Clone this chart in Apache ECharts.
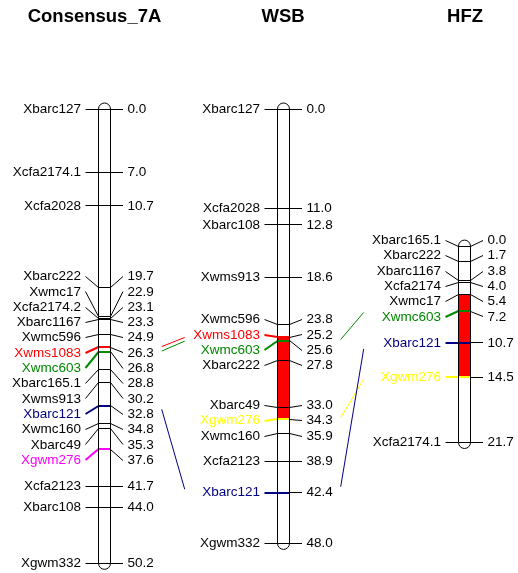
<!DOCTYPE html>
<html>
<head>
<meta charset="utf-8">
<script src="https://cdn.jsdelivr.net/npm/echarts@6/dist/echarts.min.js"></script>
<style>
  html, body { margin: 0; padding: 0; background: #fff; }
  #chart { width: 518px; height: 573px; }
</style>
</head>
<body>
<div id="chart"></div>
<script>
// ---- Linkage maps of chromosome 7A: marker names and positions (cM) ----
const mapTitles = ['Consensus_7A', 'WSB', 'HFZ'];

const consensusMarkers = ['Xbarc127', 'Xcfa2174.1', 'Xcfa2028', 'Xbarc222', 'Xwmc17', 'Xcfa2174.2',
  'Xbarc1167', 'Xwmc596', 'Xwms1083', 'Xwmc603', 'Xbarc165.1', 'Xwms913', 'Xbarc121', 'Xwmc160',
  'Xbarc49', 'Xgwm276', 'Xcfa2123', 'Xbarc108', 'Xgwm332'];
const consensusPositions = [0.0, 7.0, 10.7, 19.7, 22.9, 23.1, 23.3, 24.9, 26.3, 26.8, 28.8, 30.2,
  32.8, 34.8, 35.3, 37.6, 41.7, 44.0, 50.2];

const wsbMarkers = ['Xbarc127', 'Xcfa2028', 'Xbarc108', 'Xwms913', 'Xwmc596', 'Xwms1083', 'Xwmc603',
  'Xbarc222', 'Xbarc49', 'Xgwm276', 'Xwmc160', 'Xcfa2123', 'Xbarc121', 'Xgwm332'];
const wsbPositions = [0.0, 11.0, 12.8, 18.6, 23.8, 25.2, 25.6, 27.8, 33.0, 34.3, 35.9, 38.9, 42.4, 48.0];

const hfzMarkers = ['Xbarc165.1', 'Xbarc222', 'Xbarc1167', 'Xcfa2174', 'Xwmc17', 'Xwmc603',
  'Xbarc121', 'Xgwm276', 'Xcfa2174.1'];
const hfzPositions = [0.0, 1.7, 3.8, 4.0, 5.4, 7.2, 10.7, 14.5, 21.7];

// Highlighted markers on each map
const consensusHighlights = { Xwms1083: '#ff0000', Xwmc603: '#008800', Xbarc121: '#000080', Xgwm276: '#ff00ff' };
const wsbHighlights = { Xwms1083: '#ff0000', Xwmc603: '#008800', Xgwm276: '#ffff00', Xbarc121: '#000080' };
const hfzHighlights = { Xwmc603: '#008800', Xbarc121: '#000080', Xgwm276: '#ffff00' };

// QTL intervals (cM)
const wsbQtl = [25.2, 34.3];
const hfzQtl = [5.4, 14.5];

// Shared markers joined between neighbouring maps
const consensusWsbLinks = ['Xwms1083', 'Xwmc603', 'Xbarc121'];
const wsbHfzLinks = ['Xwmc603', 'Xgwm276', 'Xbarc121'];

// ---- Layout ----
const WIDTH = 518;
const GRID_TOP = 109;
const CM_MAX = 50;
const GRID_H = 452.5;
const HALF_W = 6;          // half width of a chromosome bar
const STUB = 13;           // connector run between bar edge and label column
const LABEL_PAD = 4.5;     // gap between connector and text
const LABEL_GAP_PX = 15.3; // minimum vertical spacing of labels
const LINK_START = 56.2;   // link start, measured from left bar centre
const LINK_SPAN = 25;
const FONT = '13.5px "Liberation Sans", Arial, Helvetica, sans-serif';
const TITLE_FONT = 'bold 18.5px "Liberation Sans", Arial, Helvetica, sans-serif';

const maps = [
  { title: mapTitles[0], markers: consensusMarkers, positions: consensusPositions,
    highlights: consensusHighlights, qtl: null, cx: 104.5, offset: 0, titleX: 94.5 },
  { title: mapTitles[1], markers: wsbMarkers, positions: wsbPositions,
    highlights: wsbHighlights, qtl: wsbQtl, cx: 283.5, offset: 0, titleX: 283 },
  { title: mapTitles[2], markers: hfzMarkers, positions: hfzPositions,
    highlights: hfzHighlights, qtl: hfzQtl, cx: 464.5, offset: 15.15, titleX: 465 }
];

// Spread crowded labels: overlapping groups are centred on the midpoint
// of their first and last marker, with a fixed spacing.
function spreadLabels(pos, gap) {
  let clusters = pos.map((p, i) => ({ first: i, last: i }));
  const topOf = c => (pos[c.first] + pos[c.last]) / 2 - (c.last - c.first) * gap / 2;
  let merged = true;
  while (merged) {
    merged = false;
    for (let k = 0; k < clusters.length - 1; k++) {
      const a = clusters[k], b = clusters[k + 1];
      const aBottom = topOf(a) + (a.last - a.first) * gap;
      if (topOf(b) - aBottom < gap - 1e-6) {
        clusters.splice(k, 2, { first: a.first, last: b.last });
        merged = true;
        break;
      }
    }
  }
  const out = [];
  clusters.forEach(c => {
    const t = topOf(c);
    for (let i = c.first; i <= c.last; i++) out.push(t + (i - c.first) * gap);
  });
  return out;
}

const labelGapCm = LABEL_GAP_PX * CM_MAX / GRID_H;
maps.forEach(m => { m.labelPos = spreadLabels(m.positions, labelGapCm); });

const crisp = v => Math.round(v - 0.5) + 0.5;

function renderMap(params, api) {
  const m = maps[params.dataIndex];
  const yOf = cm => api.coord([m.cx, cm + m.offset])[1];
  const xOf = x => api.coord([x, 0])[0];
  const cx = xOf(m.cx);
  const left = cx - HALF_W, right = cx + HALF_W;
  const yTop = yOf(m.positions[0]);
  const yBot = yOf(m.positions[m.positions.length - 1]);
  const children = [];

  // bar body
  children.push({
    type: 'rect',
    shape: { x: left, y: yTop - HALF_W, width: HALF_W * 2, height: yBot - yTop + HALF_W * 2, r: HALF_W },
    style: { fill: '#ffffff', stroke: null }
  });
  // QTL interval
  if (m.qtl) {
    children.push({
      type: 'rect',
      shape: { x: left, y: yOf(m.qtl[0]), width: HALF_W * 2, height: yOf(m.qtl[1]) - yOf(m.qtl[0]) },
      style: { fill: '#ff0000', stroke: null }
    });
  }
  // markers
  m.markers.forEach((name, i) => {
    const color = m.highlights[name];
    const lw = color ? 2 : 1;
    const my = color ? Math.round(yOf(m.positions[i])) : crisp(yOf(m.positions[i]));
    const ly = yOf(m.labelPos[i]);
    const lyc = color ? Math.round(ly) : crisp(ly);
    const stroke = color || '#000000';
    children.push({
      type: 'line',
      shape: { x1: left, y1: my, x2: right, y2: my },
      style: { stroke: stroke, lineWidth: lw }
    });
    children.push({
      type: 'line',
      shape: { x1: left - STUB, y1: lyc, x2: left, y2: my },
      style: { stroke: stroke, lineWidth: lw }
    });
    children.push({
      type: 'line',
      shape: { x1: right, y1: crisp(yOf(m.positions[i])), x2: right + STUB - 0.5, y2: crisp(ly) },
      style: { stroke: '#000000', lineWidth: 1 }
    });
    children.push({
      type: 'text',
      x: left - STUB - LABEL_PAD, y: ly,
      style: { text: name, fill: stroke, font: FONT, align: 'right', verticalAlign: 'middle' }
    });
    children.push({
      type: 'text',
      x: right + STUB + LABEL_PAD - 0.5, y: ly,
      style: { text: m.positions[i].toFixed(1), fill: '#000000', font: FONT, align: 'left', verticalAlign: 'middle' }
    });
  });
  // outline
  children.push({
    type: 'rect',
    shape: { x: crisp(left), y: yTop - HALF_W, width: HALF_W * 2, height: yBot - yTop + HALF_W * 2, r: HALF_W },
    style: { fill: null, stroke: '#000000', lineWidth: 1 }
  });
  return { type: 'group', children: children };
}

// links between neighbouring maps
function buildLinks(a, b, names) {
  return names.map(name => {
    const ia = a.markers.indexOf(name), ib = b.markers.indexOf(name);
    const x1 = a.cx + LINK_START;
    return {
      value: [x1, a.positions[ia] + a.offset, x1 + LINK_SPAN, b.positions[ib] + b.offset],
      color: a.highlights[name] || '#000000'
    };
  });
}
const links = buildLinks(maps[0], maps[1], consensusWsbLinks)
  .concat(buildLinks(maps[1], maps[2], wsbHfzLinks));

function renderLink(params, api) {
  const l = links[params.dataIndex];
  const p1 = api.coord([l.value[0], l.value[1]]);
  const p2 = api.coord([l.value[2], l.value[3]]);
  const t = 0.04;
  return {
    type: 'line',
    shape: {
      x1: p1[0] + (p2[0] - p1[0]) * t, y1: p1[1] + (p2[1] - p1[1]) * t,
      x2: p2[0] - (p2[0] - p1[0]) * t, y2: p2[1] - (p2[1] - p1[1]) * t
    },
    style: { stroke: l.color, lineWidth: 1 }
  };
}

const chart = echarts.init(document.getElementById('chart'), null, { renderer: 'canvas' });
chart.setOption({
  animation: false,
  backgroundColor: '#ffffff',
  grid: { left: 0, width: WIDTH, top: GRID_TOP, height: GRID_H },
  xAxis: { type: 'value', min: 0, max: WIDTH, show: false },
  yAxis: { type: 'value', min: 0, max: CM_MAX, inverse: true, show: false },
  graphic: maps.map(m => ({
    type: 'text',
    x: m.titleX, y: 17,
    style: { text: m.title, font: TITLE_FONT, fill: '#000000', align: 'center', verticalAlign: 'middle' }
  })),
  series: [
    {
      type: 'custom',
      coordinateSystem: 'cartesian2d',
      clip: false,
      silent: true,
      renderItem: renderLink,
      data: links.map(l => l.value)
    },
    {
      type: 'custom',
      coordinateSystem: 'cartesian2d',
      clip: false,
      silent: true,
      renderItem: renderMap,
      data: maps.map(m => [m.cx, m.offset])
    }
  ]
});
</script>
</body>
</html>
